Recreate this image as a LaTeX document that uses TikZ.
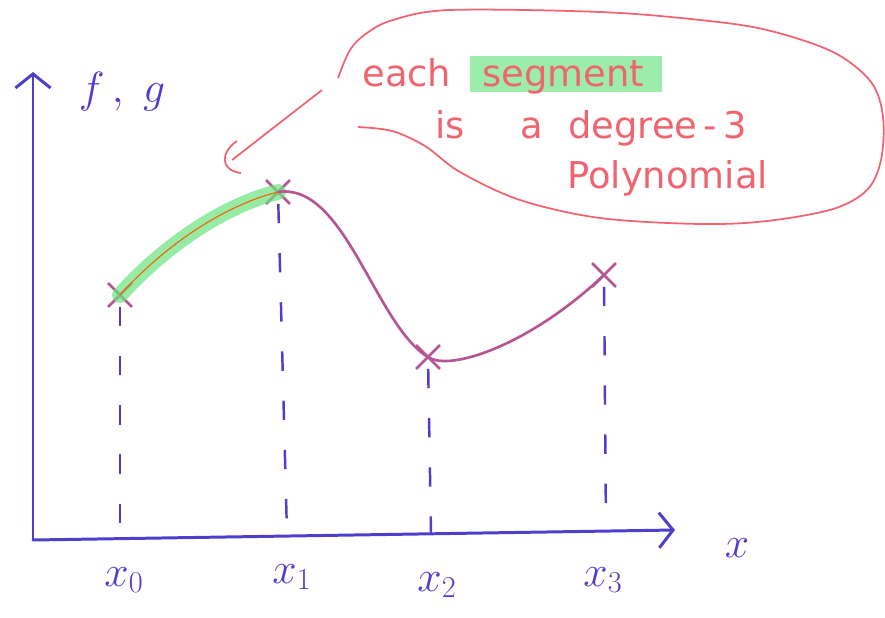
\documentclass[tikz,border=0pt]{standalone}
\usepackage{fontspec}
\newfontfamily\notefont{DejaVu Sans}
\usetikzlibrary{arrows.meta,shapes.misc}
\definecolor{axisblue}{RGB}{78,62,205}
\definecolor{curvepink}{RGB}{182,84,148}
\definecolor{notered}{RGB}{240,100,112}
\definecolor{marker}{RGB}{105,228,125}
\begin{document}
\begin{tikzpicture}[x=0.02cm,y=-0.02cm,
  axis/.style={draw=axisblue,line width=1.7pt,line cap=round,-{Straight Barb[length=8pt,width=20pt,line width=1.7pt]}},
  guide/.style={draw=axisblue,line width=1.4pt,dash pattern=on 11pt off 17pt},
  xmark/.style={cross out,draw=curvepink,line width=1.6pt,minimum size=0.42cm,inner sep=0pt},
  spline/.style={draw=curvepink,line width=1.5pt},
  lbl/.style={text=axisblue,font=\fontsize{26}{30}\selectfont},
  note/.style={text=notered,font=\notefont\fontsize{21}{26}\selectfont,inner sep=0pt,anchor=base west}]
\useasboundingbox (0,0) rectangle (885,618);
\coordinate (o) at (33,540);
\coordinate (ytop) at (33,72);
\coordinate (xend) at (675,530);
\draw[axis] (o) -- (ytop);
\draw[axis] (o) -- (xend);
\node[lbl] (fg) at (122,92) {$f\,,\;g$};
\node[lbl] (xl) at (737,548) {$x$};
\node[xmark] (p0) at (120,295) {};
\node[xmark] (p1) at (278,192) {};
\node[xmark] (p2) at (428,357) {};
\node[xmark] (p3) at (604,275) {};
\coordinate (f0) at (120,536);
\coordinate (f1) at (287,534);
\coordinate (f2) at (431,533);
\coordinate (f3) at (606,531);
\path[guide] (p0) edge (f0); \path[guide] (p1) edge (f1);
\path[guide] (p2) edge (f2); \path[guide] (p3) edge (f3);
\node[lbl] (x0) at (124,580) {$x_0$};
\node[lbl] (x1) at (292,577) {$x_1$};
\node[lbl] (x2) at (437,585) {$x_2$};
\node[lbl] (x3) at (603,580) {$x_3$};
\draw[marker,opacity=.7,line width=9pt,line cap=round] (p0.center) .. controls (165,245) and (225,205) .. (p1.center);
\draw[orange!70!red,line width=.6pt] (p0.center) .. controls (165,245) and (225,205) .. (p1.center);
\draw[spline] (p1.center) .. controls (345,182) and (375,325) .. (p2.center)
  .. controls (450,372) and (530,345) .. (p3.center);
\draw[notered,line width=1pt] plot[smooth,tension=.55] coordinates {(358,127) (392,131) (425,146) (460,172) (520,200) (600,218) (700,224) (767,221) (833,209) (867,190) (881,160) (883,117) (871,82) (833,52) (767,30) (700,20) (600,12) (450,10) (393,20) (367,33) (350,50) (338,78)};
\coordinate (tip) at (232,160);
\draw[notered,line width=1pt] (322,90) -- (tip);
\draw[notered,line width=1pt] (237,141) .. controls (221,152) and (219,170) .. (241,173);
\fill[marker,opacity=.65] (470,56) rectangle (662,92);
\node[note] (t1) at (362,87) {each};
\node[note] (t2) at (482,87) {segment};
\node[note] (t3) at (435,139) {is};
\node[note] (t4) at (520,139) {a};
\node[note] (t5) at (568,139) {degree\,-\,3};
\node[note] (t6) at (567,189) {Polynomial};
\end{tikzpicture}
\end{document}
